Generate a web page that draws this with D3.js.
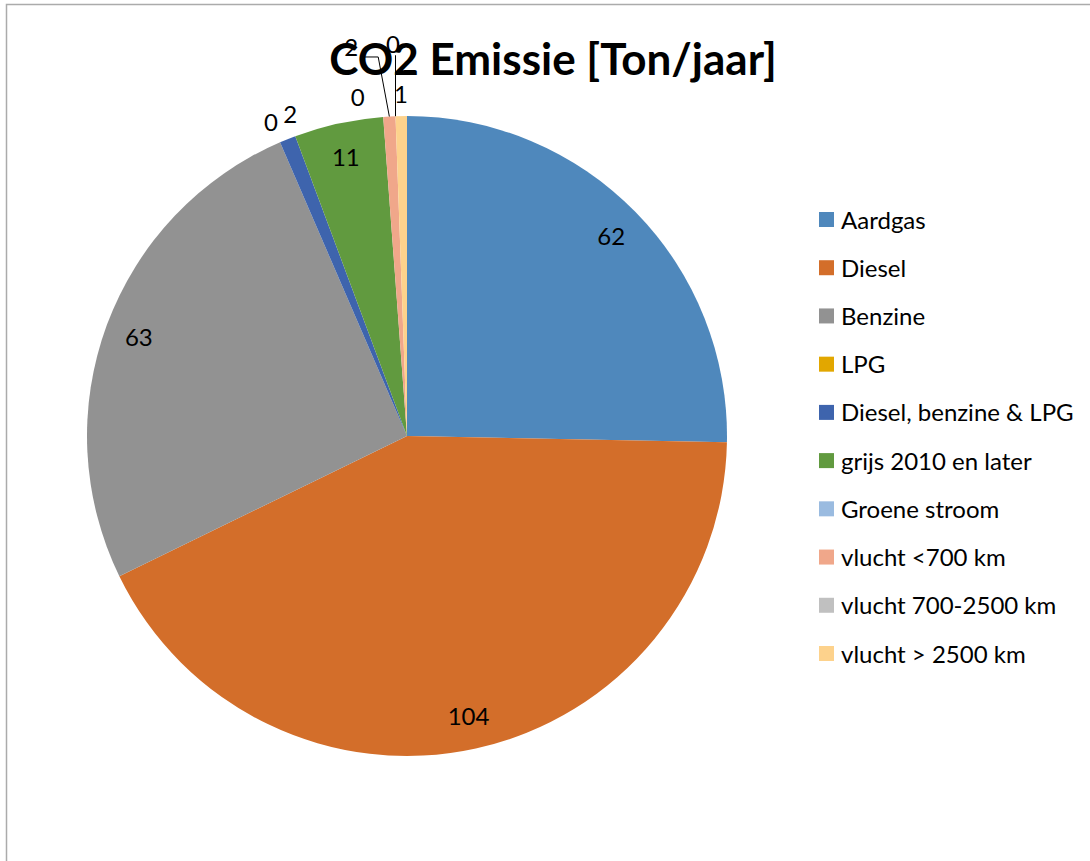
<html lang="nl">
<head>
  <title>CO2 Emissie</title>
  <meta charset="utf-8">
  <style>
    body { margin: 0; background: #fff; }
    text { font-family: Lato, "Open Sans", sans-serif; }
  </style>
</head>
<script src="https://d3js.org/d3.v7.min.js"></script>
<body>
  <svg id="canvas"></svg>
</body>

<script>

// ************************************************************************************** //
// Data

var categories = ['Aardgas', 'Diesel', 'Benzine', 'LPG', 'Diesel, benzine & LPG', 'grijs 2010 en later',
                  'Groene stroom', 'vlucht <700 km', 'vlucht 700-2500 km', 'vlucht > 2500 km'];
var values = [62, 104, 63, 0, 2, 11, 0, 1.5, 0, 1.4];
var colors = ['#4f88bc', '#d36e2a', '#929292', '#e2a700', '#3e64ad', '#619a3f',
              '#9abbe0', '#f0a78a', '#c0c0c0', '#fdd28c'];
var title = 'CO2 Emissie [Ton/jaar]';

// ************************************************************************************** //
// Layout

var width = 1090, height = 861;
var cx = 407, cy = 436, radius = 320;
var deg = Math.PI / 180;

// label tweaks where the labels would collide near the top
var labelNudge = { 'Diesel, benzine & LPG': 2, 'Groene stroom': -4, 'vlucht <700 km': -5 };
var leaderLabels = ['vlucht <700 km', 'vlucht 700-2500 km'];

var svg = d3.select('#canvas').attr('width', width).attr('height', height);

// chart frame
svg.append('rect').attr('x', 6.5).attr('y', 4.5).attr('width', 1200).attr('height', 1000)
  .attr('fill', 'none').attr('stroke', '#ababab').attr('stroke-width', 1.5);

var color = d3.scaleOrdinal().domain(categories).range(colors);

var rows = categories.map(function(c, i){ return { name: c, value: values[i] }; });
var arcs = d3.pie().sort(null).value(function(d){ return d.value; })(rows);

var arc = d3.arc().innerRadius(0).outerRadius(radius);

var g = svg.append('g').attr('transform', 'translate(' + cx + ',' + cy + ')');

g.selectAll('path.slice').data(arcs).enter().append('path')
  .attr('class', 'slice')
  .attr('d', arc)
  .attr('fill', function(d){ return color(d.data.name); });

// ************************************************************************************** //
// Data labels

function polar(r, a){ return [r * Math.sin(a), -r * Math.cos(a)]; }

arcs.forEach(function(d){
  var mid = (d.startAngle + d.endAngle) / 2;
  var name = d.data.name;
  var txt = d3.format('.0f')(d.data.value);
  var a = mid + (labelNudge[name] || 0) * deg;
  var pos;

  if (d.data.value >= 5) {
    pos = polar(286, a);
  } else if (leaderLabels.indexOf(name) >= 0) {
    pos = polar(393, a);
    var edge = polar(radius, mid);
    var pts;
    if (Math.abs(a - mid) < 0.01) {
      pts = [edge, [edge[0], pos[1] + 12]];
    } else {
      pts = [edge, [pos[0] + 27, pos[1] + 10], [pos[0] + 13, pos[1] + 10]];
    }
    g.append('path').attr('d', d3.line()(pts))
      .attr('fill', 'none').attr('stroke', '#000').attr('stroke-width', 1);
  } else {
    pos = polar(343, a);
  }

  g.append('text')
    .attr('x', pos[0]).attr('y', pos[1])
    .attr('text-anchor', 'middle').attr('dominant-baseline', 'central')
    .attr('font-size', 24).attr('fill', '#000')
    .text(txt);
});

// ************************************************************************************** //
// Title (drawn on top of labels)

svg.append('text')
  .attr('x', 553).attr('y', 75)
  .attr('text-anchor', 'middle')
  .attr('font-size', 44).attr('font-weight', 'bold').attr('fill', '#000')
  .text(title);

// ************************************************************************************** //
// Legend

var legendY = d3.scalePoint().domain(categories).range([219, 653]);

var legend = svg.append('g').selectAll('g').data(categories).enter().append('g')
  .attr('transform', function(d){ return 'translate(819,' + legendY(d) + ')'; });

legend.append('rect').attr('x', 0).attr('y', -7).attr('width', 15).attr('height', 15)
  .attr('fill', function(d){ return color(d); });

legend.append('text').attr('x', 22).attr('y', 0)
  .attr('dominant-baseline', 'central')
  .attr('font-size', 24).attr('fill', '#000')
  .text(function(d){ return d; });

</script>
</html>
